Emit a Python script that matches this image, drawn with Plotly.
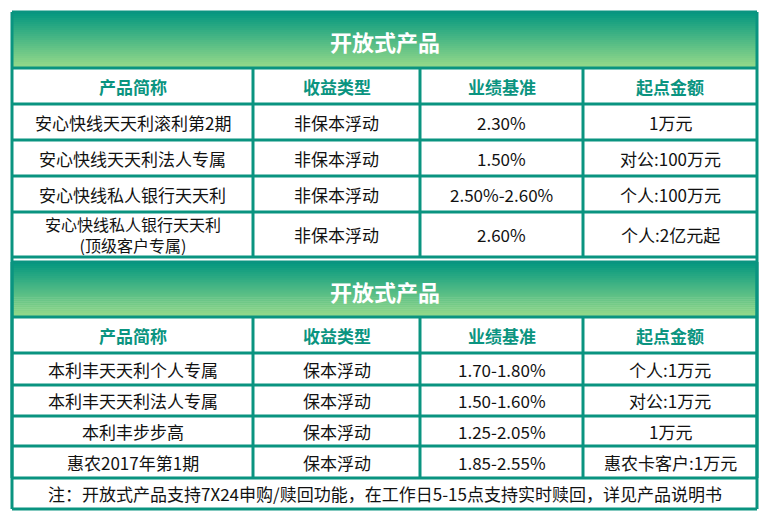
import plotly.graph_objects as go

title = "开放式产品"
headers = ["产品简称", "收益类型", "业绩基准", "起点金额"]
names1 = ["安心快线天天利滚利第2期", "安心快线天天利法人专属", "安心快线私人银行天天利", "安心快线私人银行天天利<br>(顶级客户专属)"]
types1 = ["非保本浮动", "非保本浮动", "非保本浮动", "非保本浮动"]
rates1 = ["2.30%", "1.50%", "2.50%-2.60%", "2.60%"]
mins1 = ["1万元", "对公:100万元", "个人:100万元", "个人:2亿元起"]
names2 = ["本利丰天天利个人专属", "本利丰天天利法人专属", "本利丰步步高", "惠农2017年第1期"]
types2 = ["保本浮动", "保本浮动", "保本浮动", "保本浮动"]
rates2 = ["1.70-1.80%", "1.50-1.60%", "1.25-2.05%", "1.85-2.55%"]
mins2 = ["个人:1万元", "对公:1万元", "1万元", "惠农卡客户:1万元"]
note = "注：开放式产品支持7X24申购/赎回功能，在工作日5-15点支持实时赎回，详见产品说明书"

TEAL = "#0a9480"
FONT = "Noto Sans CJK SC"
L, R = 12, 757
cols = [L, 253, 420, 583, R]
shapes, ann = [], []

def grad(y0, y1):
    n = 28
    c0, c1 = (5, 152, 128), (150, 218, 138)
    for i in range(n):
        t = i / (n - 1)
        c = tuple(int(c0[k] + (c1[k] - c0[k]) * t) for k in range(3))
        a = y0 + (y1 - y0) * i / n
        b = y0 + (y1 - y0) * (i + 1) / n + 0.5
        shapes.append(dict(type="rect", x0=L, x1=R, y0=a, y1=b, line_width=0,
                           fillcolor="rgb(%d,%d,%d)" % c, layer="below"))

def text(x, y, s, size=17, color="#111", bold=False, ls=None):
    f = dict(family=FONT, size=size, color=color)
    ann.append(dict(x=x, y=y, text=("<b>%s</b>" % s) if bold else s, showarrow=False,
                    font=f, xanchor="center", yanchor="middle"))

def hline(y):
    shapes.append(dict(type="line", x0=L, x1=R, y0=y, y1=y, line=dict(color=TEAL, width=3)))

def section(top, tb, hb, rows, data):
    grad(top, tb)
    text((L + R) / 2, (top + tb) / 2 + 1, title, 22, "white", True)
    for i in range(4):
        text((cols[i] + cols[i + 1]) / 2, (tb + hb) / 2, headers[i], 17, TEAL, True)
    bounds = [hb] + rows
    for r in range(len(rows)):
        for c in range(4):
            s = data[c][r]
            text((cols[c] + cols[c + 1]) / 2, (bounds[r] + bounds[r + 1]) / 2, s,
                 16 if "<br>" in s else 17)
    for y in [top, tb, hb] + rows:
        hline(y)
    for x in cols:
        shapes.append(dict(type="line", x0=x, x1=x, y0=(top if x in (L, R) else tb), y1=rows[-1],
                           line=dict(color=TEAL, width=3)))

section(12, 68, 104, [140, 176, 212, 257], [names1, types1, rates1, mins1])
section(262, 317, 353, [385, 416, 446, 478], [names2, types2, rates2, mins2])
text((L + R) / 2, 493, note, 17)
for x in (L, R):
    shapes.append(dict(type="line", x0=x, x1=x, y0=257, y1=509, line=dict(color=TEAL, width=3)))
hline(509)

fig = go.Figure()
fig.update_layout(width=755, height=507, margin=dict(l=0, r=0, t=0, b=0),
                  paper_bgcolor="white", plot_bgcolor="white", shapes=shapes, annotations=ann,
                  xaxis=dict(range=[8, 763], visible=False, fixedrange=True),
                  yaxis=dict(range=[515, 8], visible=False, fixedrange=True), showlegend=False)
fig.write_html("out.html")
